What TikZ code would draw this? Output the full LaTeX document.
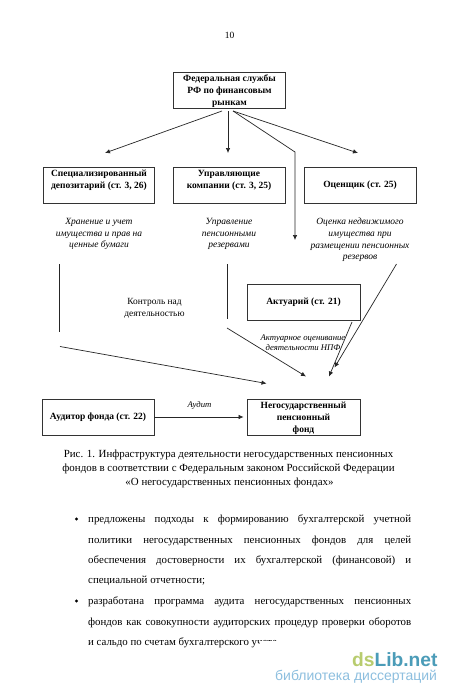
\documentclass[tikz,border=0pt]{standalone}
\usepackage{fontspec}
\setmainfont{Liberation Serif}
\newfontfamily\wmfont{Liberation Sans}
\usetikzlibrary{arrows.meta}
\newcommand{\jline}[1]{\makebox[323pt][s]{#1}}
\tikzset{
  box/.style={draw=black!80,line width=0.8pt,minimum width=112pt,minimum height=36pt,inner sep=0pt,align=center,font=\fontsize{9.5pt}{11.7pt}\selectfont\bfseries},
  threelines/.style={text height=33pt,text depth=3pt},
  desc/.style={inner sep=0pt,align=center,font=\fontsize{9.5pt}{11.7pt}\selectfont\itshape},
  plainlabel/.style={inner sep=0pt,align=center,font=\fontsize{9.4pt}{11.7pt}\selectfont},
  link/.style={line width=0.7pt,draw=black!85},
  arrow/.style={link,-{Latex[length=5pt,width=4.5pt]}},
  caption/.style={inner sep=0pt,font=\fontsize{10.9pt}{14pt}\selectfont},
  bodyline/.style={inner sep=0pt,anchor=base west,font=\fontsize{10.85pt}{12pt}\selectfont},
  bulletmark/.style={circle,fill=black,inner sep=0pt,minimum size=3.4pt}
}
\begin{document}
\begin{tikzpicture}[x=1pt,y=-1pt]
\useasboundingbox (0,0) rectangle (450,696);
\fill[white] (0,0) rectangle (450,696);
\node[inner sep=0pt,font=\fontsize{9.5pt}{11pt}\selectfont] (page) at (229.5,35) {10};
% boxes
\node[box,threelines] (fed) at (229.5,90) {Федеральная службы\\РФ по финансовым\\рынкам};
\node[box,minimum width=111pt] (dep) at (99,185) {Специализированный\\депозитарий (ст. 3, 26)\\[0pt]};
\node[box] (upr) at (229,185) {Управляющие\\компании (ст. 3, 25)\\[0pt]};
\node[box] (oc) at (360,185) {Оценщик (ст. 25)};
\node[box,minimum width=113pt] (akt) at (303.5,302.5) {Актуарий (ст. 21)};
\node[box] (aud) at (98,417) {Аудитор фонда (ст. 22)};
\node[box,threelines,minimum width=113pt] (npf) at (303.5,417) {Негосударственный\\пенсионный\\фонд};
% descriptions
\node[desc] (d1) at (99,234) {Хранение и учет\\имущества и прав на\\ценные бумаги};
\node[desc] (d2) at (229,234) {Управление\\пенсионными\\резервами};
\node[desc] (d3) at (360,240) {Оценка недвижимого\\имущества при\\размещении пенсионных\\резервов};
\node[plainlabel] (ctrl) at (154.5,308.5) {Контроль над\\деятельностью};
\node[desc,font=\fontsize{8.7pt}{9.7pt}\selectfont\itshape] (dakt) at (303,343) {Актуарное оценивание\\деятельности НПФ};
\node[desc,font=\fontsize{8.7pt}{10pt}\selectfont\itshape] (daud) at (199.5,405) {Аудит};
% free ends
\coordinate (a1s) at (222,111); \coordinate (a1e) at (105,153);
\coordinate (a2s) at (228,111); \coordinate (a2e) at (228,153);
\coordinate (a3s) at (233,111); \coordinate (a3m) at (295,152); \coordinate (a3e) at (295,240);
\coordinate (a4e) at (358,153);
\coordinate (v1s) at (59,264); \coordinate (v1e) at (59,332);
\coordinate (v2s) at (227,264); \coordinate (v2e) at (227,319);
\coordinate (b1s) at (60,346.5); \coordinate (b1e) at (266.5,383.5);
\coordinate (b2s) at (227,328); \coordinate (b2e) at (306,376.5);
\coordinate (b3s) at (396.5,264); \coordinate (b3e) at (334.5,367.5);
\coordinate (b4s) at (352,322); \coordinate (b4e) at (329,376.5);
% connectors
\draw[arrow] (a1s) -- (a1e);
\draw[arrow] (a2s) -- (a2e);
\draw[arrow] (a3s) -- (a3m) -- (a3e);
\draw[arrow] (a3s) -- (a4e);
\draw[link] (v1s) -- (v1e);
\draw[link] (v2s) -- (v2e);
\draw[arrow] (b1s) -- (b1e);
\draw[arrow] (b2s) -- (b2e);
\draw[arrow] (b3s) -- (b3e);
\draw[arrow] (b4s) -- (b4e);
\draw[arrow] (aud.east) -- ([xshift=-3pt]npf.west);
% caption
\node[caption] (c1) at (228.5,455) {Рис. 1. Инфраструктура деятельности негосударственных пенсионных};
\node[caption] (c2) at (228.5,469) {фондов в соответствии с Федеральным законом Российской Федерации};
\node[caption] (c3) at (229.5,482.5) {«О негосударственных пенсионных фондах»};
% body
\node[bulletmark] (b1) at (76.5,519) {};
\node[bodyline] (l1) at (88,522.5) {\jline{предложены подходы к формированию бухгалтерской учетной}};
\node[bodyline] (l2) at (88,543) {\jline{политики негосударственных пенсионных фондов для целей}};
\node[bodyline] (l3) at (88,563) {\jline{обеспечения достоверности их бухгалтерской (финансовой) и}};
\node[bodyline] (l4) at (88,583) {специальной отчетности;};
\node[bulletmark] (b2) at (76.5,601) {};
\node[bodyline] (l5) at (88,604.5) {\jline{разработана программа аудита негосударственных пенсионных}};
\node[bodyline] (l6) at (88,625) {\jline{фондов как совокупности аудиторских процедур проверки оборотов}};
\node[bodyline] (l7) at (88,645.5) {и сальдо по счетам бухгалтерского учета};
\fill[white] (260,640.5) rectangle (300,650);
% watermark
\node[inner sep=0pt,anchor=base west,font=\wmfont\fontsize{19.2pt}{20pt}\selectfont\bfseries] (wm1) at (352,666)
  {\textcolor[HTML]{B8CC6E}{ds}\textcolor[HTML]{4B9CB8}{Lib.net}};
\node[inner sep=0pt,anchor=base west,font=\wmfont\fontsize{14pt}{15pt}\selectfont] (wm2) at (275,680)
  {\textcolor[HTML]{8DBFDF}{библиотека диссертаций}};
\end{tikzpicture}
\end{document}
